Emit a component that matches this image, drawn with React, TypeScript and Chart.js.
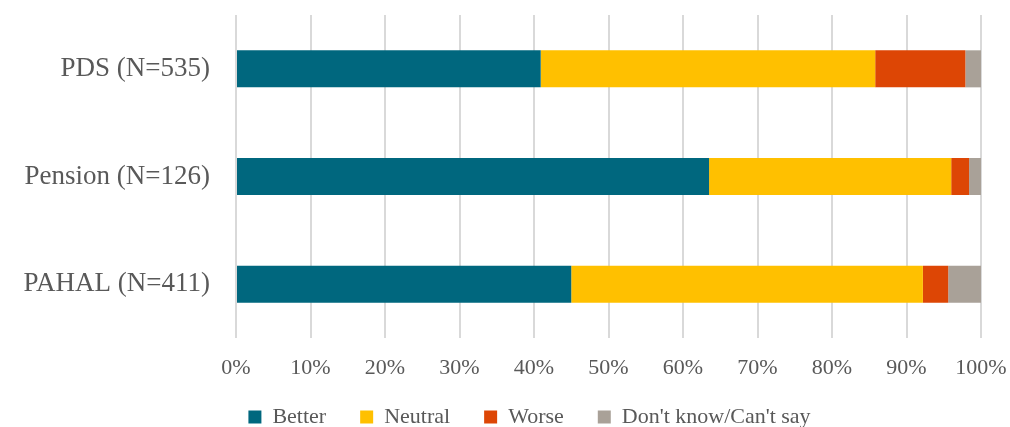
import React, { useEffect, useRef } from "react";
import { Chart, registerables } from "chart.js";

Chart.register(...registerables);

const categories = ["PDS (N=535)", "Pension (N=126)", "PAHAL (N=411)"];
const better = [40.9, 63.5, 45.0];
const neutral = [44.9, 32.5, 47.2];
const worse = [12.1, 2.4, 3.4];
const dontKnow = [2.1, 1.6, 4.4];
const seriesNames = ["Better", "Neutral", "Worse", "Don't know/Can't say"];
const colors = ["#00677E", "#FFC000", "#DD4605", "#A9A198"];

const FONT = "'Liberation Serif', 'DejaVu Serif', serif";

const legendFitPlugin = {
  id: "legendFit",
  beforeLayout(chart: any) {
    const legend = chart.legend;
    if (legend && !legend._fitWrapped) {
      const orig = legend.fit.bind(legend);
      legend.fit = function () {
        orig();
        this.height = 43;
      };
      legend._fitWrapped = true;
    }
  },
  afterLayout(chart: any) {
    const legend = chart.legend;
    if (legend) {
      legend.top -= 12;
      legend.left += 39;
      legend.right += 39;
    }
  },
};

export default function App() {
  const ref = useRef<HTMLCanvasElement>(null);
  useEffect(() => {
    document.body.style.margin = "0";
    const ctx = ref.current!;
    const data = [better, neutral, worse, dontKnow];
    const chart = new Chart(ctx, {
      type: "bar",
      data: {
        labels: categories,
        datasets: data.map((d, i) => ({
          label: seriesNames[i],
          data: d,
          backgroundColor: colors[i],
          borderWidth: 0,
          barPercentage: 0.344,
          categoryPercentage: 1,
        })),
      },
      plugins: [legendFitPlugin],
      options: {
        indexAxis: "y",
        animation: false,
        responsive: false,
        maintainAspectRatio: false,
        layout: { padding: { top: 15, right: 29, left: 0, bottom: 0 } },
        plugins: {
          tooltip: { enabled: false },
          legend: {
            position: "bottom",
            labels: {
              boxWidth: 13,
              boxHeight: 13,
              padding: 34,
              color: "#595959",
              font: { family: FONT, size: 22 },
            },
          },
        },
        scales: {
          x: {
            stacked: true,
            min: 0,
            max: 100,
            border: { display: false },
            grid: { color: "#D9D9D9", lineWidth: 2, drawTicks: false },
            ticks: {
              stepSize: 10,
              padding: 17,
              color: "#595959",
              font: { family: FONT, size: 22 },
              callback: (v: any) => v + "%",
              maxRotation: 0,
            },
            afterFit: (scale: any) => {
              scale.paddingLeft = 0;
              scale.paddingRight = 0;
              scale.height = 46;
            },
          },
          y: {
            stacked: true,
            border: { display: false },
            grid: { display: false, drawTicks: false },
            ticks: {
              padding: 26,
              color: "#595959",
              font: { family: FONT, size: 27 },
            },
            afterFit: (scale: any) => {
              scale.width = 236;
              scale.paddingTop = 0;
              scale.paddingBottom = 0;
            },
          },
        },
      },
    });
    return () => chart.destroy();
  }, []);
  return (
    <div style={{ position: "fixed", left: 0, top: 0, width: 1010, height: 427 }}>
      <canvas ref={ref} width={1010} height={427} />
    </div>
  );
}
